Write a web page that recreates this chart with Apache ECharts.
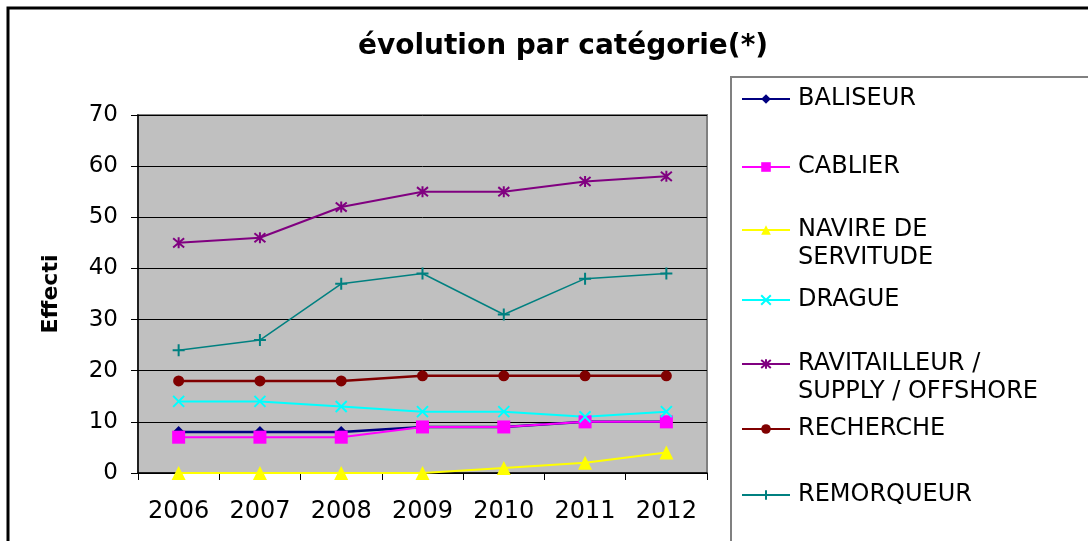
<!DOCTYPE html>
<html><head><meta charset="utf-8">
<script src="https://cdn.jsdelivr.net/npm/echarts@6/dist/echarts.min.js"></script>
<style>html,body{margin:0;padding:0;background:#fff}#c{width:1088px;height:541px}</style>
</head><body><div id="c"></div>
<script>
const years = ['2006','2007','2008','2009','2010','2011','2012'];
const baliseur = [8, 8, 8, 9, 9, 10, 10];
const cablier = [7, 7, 7, 9, 9, 10, 10];
const navire = [0, 0, 0, 0, 1, 2, 4];
const drague = [14, 14, 13, 12, 12, 11, 12];
const ravitailleur = [45, 46, 52, 55, 55, 57, 58];
const recherche = [18, 18, 18, 19, 19, 19, 19];
const remorqueur = [24, 26, 37, 39, 31, 38, 39];
const names = ['BALISEUR','CABLIER','NAVIRE DE SERVITUDE','DRAGUE','RAVITAILLEUR / SUPPLY / OFFSHORE','RECHERCHE','REMORQUEUR'];
const labels = {'NAVIRE DE SERVITUDE':' \nNAVIRE DE\nSERVITUDE','RAVITAILLEUR / SUPPLY / OFFSHORE':' \nRAVITAILLEUR /\nSUPPLY / OFFSHORE'};

const FONT = '"DejaVu Sans", "Liberation Sans", Arial, sans-serif';
const xPath = 'path://M0,0L10,10M10,0L0,10';
const starPath = 'path://M0,0L10,10M10,0L0,10M5,-1L5,11';
const plusPath = 'path://M5,0L5,10M0,5L10,5';

function mk(name, data, color, symbol, size, lw, stroke) {
  return {
    name, type: 'line', data, symbol, symbolSize: size,
    lineStyle: {color, width: lw},
    itemStyle: stroke ? {color: 'rgba(0,0,0,0)', borderColor: color, borderWidth: 2} : {color, borderColor: color, borderWidth: 0},
    color,
    emphasis: {disabled: true},
    clip: false,
    animation: false
  };
}
const series = [
  mk(names[0], baliseur, '#000080', 'diamond', 12, 2.5),
  mk(names[1], cablier, '#FF00FF', 'rect', 13, 2),
  mk(names[2], navire, '#FFFF00', 'triangle', 14, 2),
  mk(names[3], drague, '#00FFFF', xPath, 11, 2, true),
  mk(names[4], ravitailleur, '#800080', starPath, 11, 2, true),
  mk(names[5], recherche, '#800000', 'circle', 11, 2.5),
  mk(names[6], remorqueur, '#008080', plusPath, 12, 1.5, true)
];

const legendTops = [80, 148, 183, 281, 317, 410, 476];
const legends = names.map((n, i) => ({
  data: [n], left: 736, top: legendTops[i], orient: 'vertical',
  itemWidth: 48, itemHeight: 12, itemGap: 0,
  formatter: labels[n] || n,
  textStyle: {fontFamily: FONT, fontSize: 24, color: '#000', lineHeight: 28, padding: [0, 0, 0, 3]},
  selectedMode: false
}));

const chart = echarts.init(document.getElementById('c'), null, {renderer: 'canvas'});
chart.setOption({
  backgroundColor: '#fff',
  animation: false,
  title: {text: 'évolution par catégorie(*)', left: 558, top: 28, textAlign: 'center',
    textStyle: {fontFamily: FONT, fontSize: 28, fontWeight: 'bold', color: '#000'}},
  graphic: [
    {type: 'rect', shape: {x: 8, y: 8, width: 1200, height: 700}, style: {fill: 'none', stroke: '#000', lineWidth: 3}, silent: true, z: -1},
    {type: 'rect', shape: {x: 731, y: 77, width: 500, height: 600}, style: {fill: 'none', stroke: '#808080', lineWidth: 2}, silent: true, z: -1}
  ],
  legend: legends,
  grid: {left: 138, right: 381, top: 115, bottom: 68, show: true, backgroundColor: '#C0C0C0', borderColor: '#808080', borderWidth: 2},
  xAxis: {type: 'category', data: years, boundaryGap: true,
    axisLine: {lineStyle: {color: '#000', width: 1.5}},
    axisTick: {show: true, length: 7, lineStyle: {color: '#000'}},
    axisLabel: {fontFamily: FONT, fontSize: 24, color: '#000', margin: 27}},
  yAxis: {type: 'value', min: 0, max: 70, interval: 10,
    name: 'Effecti', nameLocation: 'middle', nameRotate: 90, nameGap: 76,
    nameTextStyle: {fontFamily: FONT, fontSize: 22, fontWeight: 'bold', color: '#000'},
    axisLine: {show: true, lineStyle: {color: '#000', width: 1.5}},
    axisTick: {show: true, length: 7, inside: false, lineStyle: {color: '#000'}},
    splitLine: {lineStyle: {color: '#000', width: 1}},
    axisLabel: {fontFamily: FONT, fontSize: 23, color: '#000', margin: 20}},
  series
});
</script></body></html>
